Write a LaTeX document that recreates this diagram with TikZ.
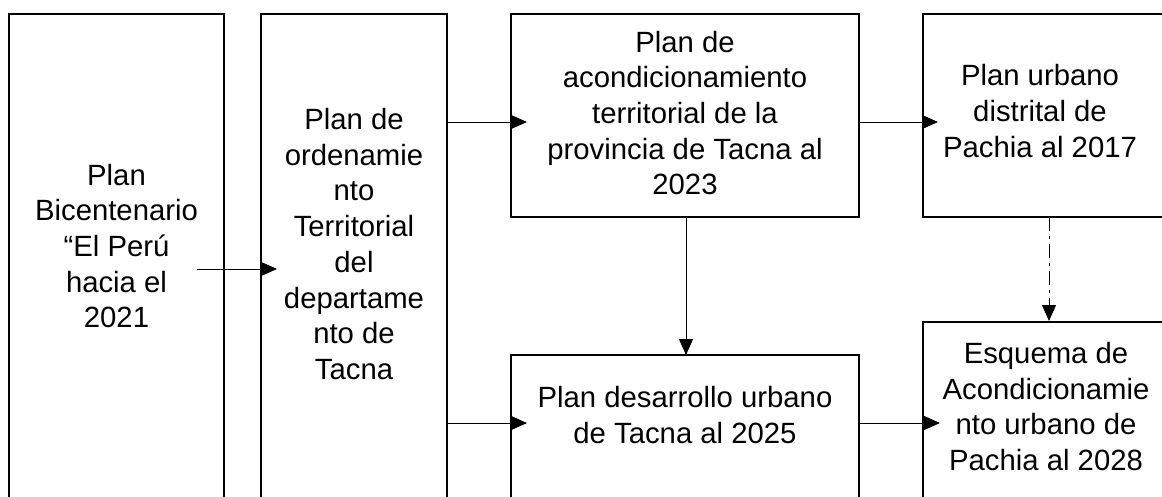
\documentclass[tikz,border=0pt]{standalone}
\usepackage{fontspec}
\setmainfont{Liberation Sans}
\usetikzlibrary{arrows.meta,calc}
\begin{document}
\begin{tikzpicture}[x=1pt,y=-1pt,
  box/.style={draw=black,line width=1.6pt,rectangle,inner sep=0pt,outer sep=0pt,fill=white},
  txt/.style={align=center,inner sep=0pt,font=\fontsize{29.3}{35.7}\selectfont},
  arr/.style={line width=1pt,-{Triangle[length=16pt,width=14pt]}},
  dashdotarr/.style={arr,dash pattern=on 14pt off 5pt on 3pt off 5pt}]
\useasboundingbox (0,0) rectangle (1162,496);
\clip (0,0) rectangle (1162,496);
% boxes
\node[box,minimum width=215pt,minimum height=526pt] (b1) at (116.5,277) {};
\node[box,minimum width=186pt,minimum height=526pt] (b2) at (354,277) {};
\node[box,minimum width=348pt,minimum height=203pt] (b3) at (685,115.5) {};
\node[box,minimum width=257pt,minimum height=203pt] (b4) at (1051.5,115.5) {};
\node[box,minimum width=348pt,minimum height=185pt] (b5) at (685,447.5) {};
\node[box,minimum width=257pt,minimum height=218pt] (b6) at (1051.5,431) {};
% texts
\node[txt] (t1) at (116.5,246) {Plan\\Bicentenario\\“El Perú\\hacia el\\2021};
\node[txt] (t2) at (354,244) {Plan de\\ordenamie\\nto\\Territorial\\del\\departame\\nto de\\Tacna};
\node[txt] (t3) at (685,113) {Plan de\\acondicionamiento\\territorial de la\\provincia de Tacna al\\2023};
\node[txt] (t4) at (1040,111) {Plan urbano\\distrital de\\Pachia al 2017};
\node[txt] (t5) at (685,415) {Plan desarrollo urbano\\de Tacna al 2025};
\node[txt] (t6) at (1046,406.5) {Esquema de\\Acondicionamie\\nto urbano de\\Pachia al 2028};
% levels
\coordinate (ya) at (0,269);
\coordinate (yb) at (0,122);
\coordinate (yc) at (0,423);
% connectors
\draw[arr] ([xshift=-27pt]b1.east |- ya) -- ([xshift=16pt]b2.west |- ya);
\draw[arr] (b2.east |- yb) -- ([xshift=16pt]b3.west |- yb);
\draw[arr] (b2.east |- yc) -- ([xshift=16pt]b5.west |- yc);
\draw[arr] (b3.east |- yb) -- ([xshift=15pt]b4.west |- yb);
\draw[arr] (b5.east |- yc) -- ([xshift=17pt]b6.west |- yc);
\draw[arr] ([xshift=1pt]b3.south) -- ([xshift=1pt]b3.south |- b5.north);
\draw[dashdotarr] ([xshift=-2.5pt]b4.south) -- ([xshift=-2.5pt,yshift=1pt]b4.south |- b6.north);
\end{tikzpicture}
\end{document}
